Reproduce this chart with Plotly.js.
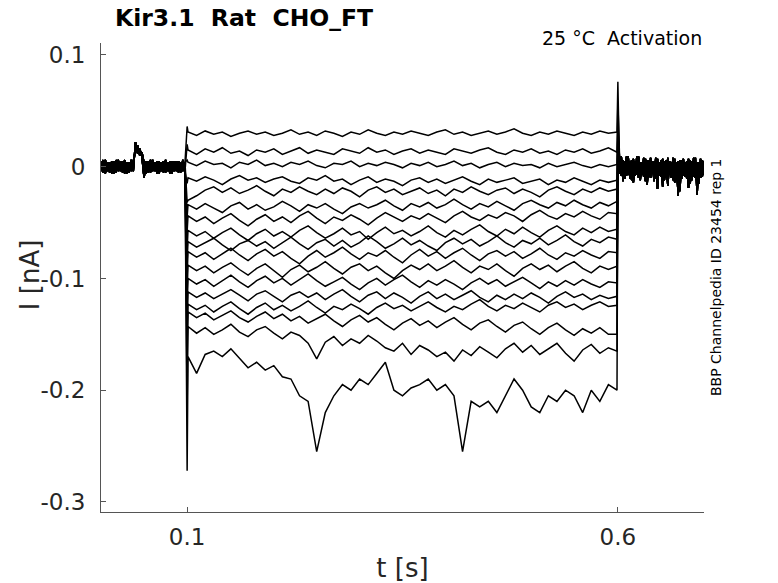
<!DOCTYPE html>
<html>
<head>
<meta charset="utf-8">
<script src="https://cdn.plot.ly/plotly-3.0.1.min.js"></script>
<style>
  html, body { margin: 0; padding: 0; background: #fff; }
  #chart { width: 778px; height: 583px; }
</style>
</head>
<body>
<div id="chart"></div>
<script>
// holding segment before the step, sampled every 2.5 ms from t = 0
var preA = [0.005,-0.005,0.006,-0.004,0.004,-0.006,0.005,-0.005,0.006,-0.004,0.005,-0.006,0.004,-0.005,0.006,-0.004,
  0.022,0.012,0.016,0.009,-0.010,
  0.005,-0.005,0.006,-0.004,0.004,-0.006,0.005,-0.004,0.005,-0.005,0.004,-0.006,0.005,-0.004,0.005,-0.005,0.004,-0.004,0.004];
var preB = [-0.004,0.006,-0.006,0.004,-0.005,0.005,-0.006,0.006,-0.004,0.005,-0.005,0.006,-0.006,0.004,-0.004,0.005,
  0.014,0.019,0.010,0.013,0.002,
  -0.006,0.005,-0.005,0.006,-0.004,0.005,-0.006,0.004,-0.005,0.006,-0.004,0.005,-0.006,0.005,-0.004,0.005,-0.005,0.006,-0.004];

// tail after the step, sampled every 2 ms from t = 0.602
var postA = [0.008,-0.008,0.006,-0.011,0.009,-0.007,0.005,-0.012,0.007,-0.008,0.009,-0.010,0.004,-0.007,0.008,-0.013,0.006,-0.009,0.008,-0.006,
  0.005,-0.011,0.007,-0.008,0.006,-0.018,0.005,-0.010,0.008,-0.007,0.004,-0.012,0.007,-0.009,0.005,-0.022,0.006,-0.008,0.004,-0.011,
  0.007,-0.015,0.005,-0.009,0.008,-0.025,0.004,-0.010,0.006,-0.007];
var postB = [-0.006,0.009,-0.013,0.005,-0.008,0.009,-0.011,0.006,-0.014,0.005,-0.007,0.009,-0.012,0.004,-0.009,0.007,-0.016,0.006,-0.010,0.005,
  -0.013,0.008,-0.020,0.004,-0.009,0.007,-0.012,0.006,-0.017,0.005,-0.010,0.008,-0.014,0.004,-0.026,0.006,-0.011,0.007,-0.009,0.005,
  -0.019,0.006,-0.012,0.008,-0.010,0.004,-0.015,0.007,-0.009,0.005];

// step currents, 0.1 s to 0.6 s every 10 ms, one row per sweep (nA)
var sweeps = [
  [0.031,0.028,0.032,0.029,0.031,0.027,0.030,0.032,0.029,0.031,0.028,0.030,0.033,0.029,0.031,0.028,0.032,0.030,0.027,0.031,0.029,0.033,0.030,0.028,0.031,0.029,0.032,0.030,0.028,0.031,0.033,0.029,0.031,0.028,0.030,0.032,0.029,0.031,0.034,0.030,0.028,0.031,0.029,0.032,0.030,0.028,0.031,0.029,0.032,0.030,0.031],
  [0.015,0.011,0.016,0.013,0.017,0.012,0.014,0.010,0.015,0.013,0.016,0.011,0.014,0.017,0.012,0.015,0.013,0.011,0.016,0.014,0.012,0.017,0.013,0.015,0.011,0.014,0.016,0.012,0.015,0.013,0.011,0.016,0.014,0.012,0.015,0.017,0.013,0.011,0.015,0.013,0.016,0.012,0.014,0.011,0.015,0.013,0.016,0.012,0.014,0.017,0.013],
  [0.004,0.001,0.005,0.002,0.003,-0.001,0.004,0.002,0.006,0.001,0.003,0.000,0.004,0.002,0.005,0.001,-0.001,0.003,0.002,0.005,0.000,0.003,0.001,0.004,0.002,-0.001,0.003,0.001,0.004,0.000,0.002,0.005,0.001,0.003,-0.001,0.002,0.004,0.000,0.003,0.001,0.002,-0.001,0.003,0.000,0.002,0.004,0.001,-0.001,0.002,0.000,0.002],
  [-0.010,-0.013,-0.009,-0.012,-0.016,-0.011,-0.008,-0.012,-0.010,-0.014,-0.011,-0.009,-0.013,-0.015,-0.010,-0.012,-0.008,-0.013,-0.011,-0.016,-0.012,-0.009,-0.014,-0.011,-0.013,-0.017,-0.012,-0.010,-0.014,-0.011,-0.015,-0.012,-0.009,-0.013,-0.016,-0.011,-0.014,-0.012,-0.010,-0.015,-0.013,-0.011,-0.016,-0.012,-0.014,-0.010,-0.013,-0.016,-0.012,-0.014,-0.012],
  [-0.030,-0.026,-0.021,-0.018,-0.023,-0.019,-0.024,-0.021,-0.017,-0.022,-0.026,-0.020,-0.023,-0.018,-0.022,-0.025,-0.020,-0.024,-0.019,-0.022,-0.027,-0.021,-0.018,-0.023,-0.020,-0.025,-0.022,-0.019,-0.024,-0.021,-0.026,-0.020,-0.023,-0.018,-0.022,-0.025,-0.021,-0.019,-0.024,-0.020,-0.023,-0.027,-0.021,-0.018,-0.022,-0.025,-0.020,-0.023,-0.019,-0.022,-0.020],
  [-0.034,-0.038,-0.033,-0.037,-0.041,-0.035,-0.032,-0.038,-0.034,-0.039,-0.036,-0.031,-0.035,-0.040,-0.034,-0.037,-0.033,-0.038,-0.042,-0.036,-0.033,-0.037,-0.034,-0.030,-0.035,-0.039,-0.033,-0.036,-0.032,-0.037,-0.034,-0.029,-0.034,-0.038,-0.033,-0.036,-0.031,-0.035,-0.039,-0.033,-0.030,-0.034,-0.037,-0.032,-0.035,-0.030,-0.034,-0.037,-0.032,-0.035,-0.031],
  [-0.044,-0.049,-0.045,-0.051,-0.046,-0.042,-0.048,-0.053,-0.047,-0.043,-0.049,-0.045,-0.050,-0.044,-0.040,-0.046,-0.051,-0.045,-0.048,-0.043,-0.047,-0.052,-0.046,-0.041,-0.045,-0.049,-0.044,-0.047,-0.042,-0.046,-0.050,-0.044,-0.040,-0.045,-0.048,-0.043,-0.046,-0.041,-0.044,-0.049,-0.043,-0.039,-0.044,-0.047,-0.042,-0.045,-0.040,-0.044,-0.047,-0.041,-0.042],
  [-0.057,-0.062,-0.058,-0.064,-0.059,-0.055,-0.061,-0.066,-0.060,-0.056,-0.062,-0.058,-0.063,-0.057,-0.053,-0.059,-0.064,-0.060,-0.055,-0.061,-0.058,-0.065,-0.059,-0.054,-0.060,-0.057,-0.062,-0.058,-0.053,-0.059,-0.063,-0.057,-0.061,-0.056,-0.052,-0.058,-0.062,-0.056,-0.060,-0.054,-0.059,-0.063,-0.057,-0.053,-0.058,-0.061,-0.055,-0.059,-0.054,-0.058,-0.056],
  [-0.067,-0.072,-0.068,-0.064,-0.070,-0.075,-0.069,-0.066,-0.071,-0.067,-0.073,-0.068,-0.063,-0.069,-0.074,-0.068,-0.065,-0.071,-0.066,-0.072,-0.068,-0.062,-0.067,-0.073,-0.069,-0.064,-0.070,-0.066,-0.071,-0.075,-0.068,-0.064,-0.069,-0.065,-0.071,-0.067,-0.062,-0.068,-0.072,-0.066,-0.069,-0.064,-0.070,-0.066,-0.061,-0.067,-0.071,-0.065,-0.068,-0.063,-0.065],
  [-0.076,-0.081,-0.077,-0.083,-0.078,-0.073,-0.079,-0.084,-0.078,-0.074,-0.080,-0.076,-0.082,-0.087,-0.080,-0.075,-0.081,-0.077,-0.072,-0.078,-0.083,-0.077,-0.080,-0.075,-0.081,-0.086,-0.079,-0.074,-0.080,-0.076,-0.082,-0.077,-0.073,-0.079,-0.084,-0.078,-0.075,-0.080,-0.076,-0.082,-0.078,-0.073,-0.079,-0.083,-0.077,-0.080,-0.075,-0.079,-0.082,-0.076,-0.077],
  [-0.088,-0.093,-0.089,-0.095,-0.090,-0.086,-0.092,-0.097,-0.091,-0.087,-0.093,-0.099,-0.092,-0.088,-0.094,-0.090,-0.085,-0.091,-0.096,-0.090,-0.087,-0.093,-0.089,-0.095,-0.100,-0.093,-0.088,-0.092,-0.087,-0.093,-0.089,-0.084,-0.090,-0.095,-0.089,-0.092,-0.087,-0.093,-0.098,-0.091,-0.087,-0.092,-0.088,-0.094,-0.089,-0.085,-0.091,-0.095,-0.089,-0.092,-0.089],
  [-0.100,-0.105,-0.101,-0.107,-0.102,-0.097,-0.103,-0.108,-0.102,-0.098,-0.104,-0.100,-0.106,-0.101,-0.096,-0.102,-0.107,-0.103,-0.099,-0.105,-0.110,-0.104,-0.100,-0.106,-0.101,-0.097,-0.103,-0.108,-0.102,-0.106,-0.101,-0.105,-0.110,-0.104,-0.100,-0.105,-0.101,-0.107,-0.103,-0.099,-0.104,-0.109,-0.103,-0.107,-0.102,-0.106,-0.101,-0.105,-0.108,-0.103,-0.104],
  [-0.112,-0.117,-0.113,-0.118,-0.114,-0.110,-0.115,-0.120,-0.114,-0.111,-0.116,-0.121,-0.115,-0.112,-0.117,-0.113,-0.119,-0.114,-0.110,-0.116,-0.121,-0.115,-0.112,-0.118,-0.113,-0.117,-0.122,-0.116,-0.112,-0.118,-0.114,-0.119,-0.115,-0.111,-0.117,-0.121,-0.115,-0.119,-0.114,-0.118,-0.113,-0.117,-0.122,-0.116,-0.112,-0.117,-0.114,-0.119,-0.115,-0.118,-0.116],
  [-0.123,-0.128,-0.124,-0.130,-0.125,-0.121,-0.127,-0.132,-0.126,-0.122,-0.128,-0.124,-0.129,-0.125,-0.120,-0.126,-0.131,-0.125,-0.128,-0.123,-0.127,-0.132,-0.126,-0.122,-0.127,-0.124,-0.129,-0.125,-0.121,-0.126,-0.130,-0.125,-0.128,-0.123,-0.119,-0.125,-0.129,-0.124,-0.127,-0.122,-0.126,-0.130,-0.124,-0.121,-0.126,-0.123,-0.128,-0.124,-0.121,-0.125,-0.124],
  [-0.130,-0.135,-0.131,-0.137,-0.133,-0.129,-0.135,-0.139,-0.134,-0.130,-0.136,-0.132,-0.138,-0.134,-0.140,-0.136,-0.132,-0.138,-0.143,-0.137,-0.133,-0.139,-0.135,-0.141,-0.146,-0.140,-0.136,-0.142,-0.138,-0.144,-0.139,-0.135,-0.141,-0.146,-0.140,-0.137,-0.143,-0.148,-0.142,-0.139,-0.145,-0.150,-0.144,-0.140,-0.146,-0.151,-0.145,-0.149,-0.144,-0.150,-0.150],
  [-0.143,-0.149,-0.144,-0.150,-0.146,-0.141,-0.148,-0.152,-0.146,-0.143,-0.149,-0.154,-0.148,-0.151,-0.158,-0.172,-0.157,-0.152,-0.160,-0.154,-0.158,-0.151,-0.156,-0.162,-0.165,-0.158,-0.168,-0.160,-0.164,-0.170,-0.166,-0.174,-0.164,-0.169,-0.161,-0.166,-0.171,-0.163,-0.158,-0.166,-0.160,-0.168,-0.163,-0.158,-0.167,-0.174,-0.164,-0.159,-0.167,-0.162,-0.165],
  [-0.170,-0.185,-0.168,-0.165,-0.170,-0.163,-0.172,-0.180,-0.175,-0.182,-0.178,-0.188,-0.190,-0.205,-0.210,-0.255,-0.220,-0.205,-0.195,-0.200,-0.190,-0.195,-0.185,-0.175,-0.200,-0.205,-0.198,-0.195,-0.190,-0.200,-0.195,-0.205,-0.255,-0.210,-0.215,-0.210,-0.220,-0.205,-0.190,-0.200,-0.215,-0.220,-0.205,-0.210,-0.200,-0.205,-0.220,-0.200,-0.210,-0.195,-0.200]
];

// capacitive peaks right at step onset (t = 0.1) and offset (t = 0.6)
var onPeaks = [0.036, 0.020, 0.006, -0.015, -0.032, -0.045, -0.058, -0.074, -0.085, -0.098, -0.112, -0.128, -0.142, -0.158, -0.175, -0.215, -0.272];
var offPeaks = [0.076, 0.058, 0.045, 0.036, 0.030, 0.026, 0.022, 0.019, 0.016, 0.014, 0.012, 0.010, 0.009, 0.008, 0.007, 0.006, 0.005];

var xTicks = [0.1, 0.6];
var xTickText = ["0.1", "0.6"];
var yTicks = [0.1, 0, -0.1, -0.2, -0.3];
var yTickText = ["0.1", "0", "-0.1", "-0.2", "-0.3"];

(function () {
  var FONT = "DejaVu Sans, Verdana, sans-serif";
  var PRE_DT = 0.0025;
  var POST_T0 = 0.602;
  var POST_DT = 0.002;
  var T_ON = 0.1;
  var T_OFF = 0.6;

  function buildSweep(k) {
    var pre = k % 2 === 0 ? preA : preB;
    var post = k % 2 === 0 ? postB : postA;
    var step = sweeps[k];
    var x = [];
    var y = [];
    var i;
    for (i = 0; i < pre.length; i++) {
      x.push(i * PRE_DT);
      y.push(pre[i]);
    }
    x.push(T_ON);
    y.push(onPeaks[k]);
    var dt = (T_OFF - T_ON - 0.002) / (step.length - 1);
    for (i = 0; i < step.length; i++) {
      x.push(T_ON + 0.001 + i * dt);
      y.push(step[i]);
    }
    x.push(T_OFF);
    y.push(offPeaks[k]);
    for (i = 0; i < post.length; i++) {
      x.push(POST_T0 + i * POST_DT);
      y.push(post[i]);
    }
    return {
      x: x,
      y: y,
      type: "scatter",
      mode: "lines",
      line: { color: "#000", width: 1.5 },
      hoverinfo: "skip",
      showlegend: false,
    };
  }

  var traces = sweeps.map(function (row, k) {
    return buildSweep(k);
  });

  var axisCommon = {
    showgrid: false,
    zeroline: false,
    showline: true,
    linecolor: "#555",
    linewidth: 1,
    ticks: "inside",
    ticklen: 5,
    tickcolor: "#555",
    tickfont: { family: FONT, size: 23, color: "#262626" },
    mirror: false,
  };

  var layout = {
    width: 778,
    height: 583,
    margin: { l: 101, r: 74, t: 43, b: 71 },
    paper_bgcolor: "#fff",
    plot_bgcolor: "#fff",
    font: { family: FONT, color: "#000" },
    title: {
      text: "<b>Kir3.1\u00a0\u00a0Rat\u00a0\u00a0CHO_FT</b>",
      font: { family: FONT, size: 23.5, color: "#000" },
      x: 115 / 778,
      xanchor: "left",
      y: 1 - 18 / 583,
      yanchor: "middle",
    },
    xaxis: Object.assign({}, axisCommon, {
      range: [0, 0.7],
      tickvals: xTicks,
      ticktext: xTickText,
      ticklabelstandoff: 4,
      title: { text: "t [s]", font: { family: FONT, size: 26, color: "#262626" }, standoff: 10 },
    }),
    yaxis: Object.assign({}, axisCommon, {
      range: [-0.309, 0.1107],
      tickvals: yTicks,
      ticktext: yTickText,
      ticklabelstandoff: 10,
      title: { text: "" },
    }),
    annotations: [
      {
        text: "I [nA]",
        xref: "paper",
        yref: "paper",
        x: 0,
        y: 0.505,
        xanchor: "center",
        yanchor: "middle",
        xshift: -71,
        textangle: -90,
        showarrow: false,
        font: { family: FONT, size: 26, color: "#262626" },
      },
      {
        text: "25 °C\u00a0\u00a0Activation",
        xref: "paper",
        yref: "paper",
        x: 1,
        y: 1,
        xanchor: "right",
        yanchor: "bottom",
        yshift: -8,
        showarrow: false,
        font: { family: FONT, size: 19, color: "#000" },
      },
      {
        text: "BBP Channelpedia ID 23454 rep 1",
        xref: "paper",
        yref: "paper",
        x: 1,
        y: 0.501,
        xanchor: "center",
        yanchor: "middle",
        xshift: 12,
        textangle: -90,
        showarrow: false,
        font: { family: FONT, size: 14, color: "#000" },
      },
    ],
  };

  Plotly.newPlot("chart", traces, layout, { displayModeBar: false, staticPlot: true });
})();
</script>
</body>
</html>
